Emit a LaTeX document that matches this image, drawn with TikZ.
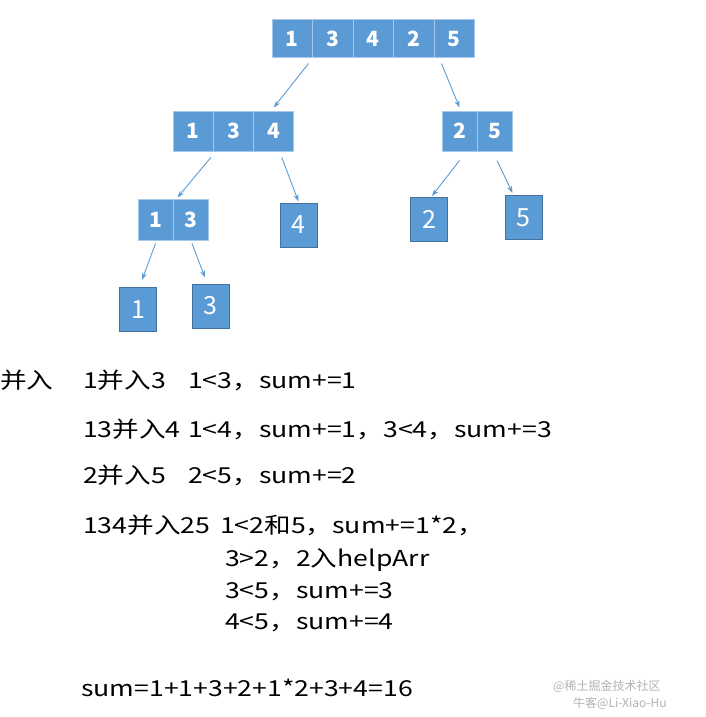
\documentclass[tikz,border=0pt]{standalone}
\usepackage{fontspec}
\setmainfont{Noto Sans CJK SC}
\newfontfamily\widefont[FakeStretch=1.21]{Noto Sans CJK SC}
\usetikzlibrary{arrows.meta}

\definecolor{cellblue}{RGB}{91,155,213}
\definecolor{leafline}{RGB}{65,113,156}
\definecolor{linkblue}{RGB}{91,155,213}

\begin{document}
\begin{tikzpicture}[x=1pt,y=-1pt,
        cell/.style={draw=cellblue!55!white, fill=cellblue, line width=1pt, text=white,
            inner sep=0pt, font=\fontsize{21}{21}\selectfont\bfseries},
        leaf/.style={draw=leafline, fill=cellblue, line width=1pt, text=white,
            inner sep=0pt, minimum width=37pt, minimum height=44pt,
            font=\fontsize{25}{25}\selectfont},
        link/.style={draw=linkblue, line width=0.9pt, -{Stealth[length=7pt,width=5pt]}},
        txt/.style={anchor=base west, inner sep=0pt, font=\widefont\fontsize{22}{26}\selectfont},
        wmark/.style={anchor=base west, inner sep=0pt, text=black!30, font=\fontsize{12}{12}\selectfont}]

    \useasboundingbox (0,0) rectangle (705,717);

    % split tree
    \foreach \v [count=\i] in {1,3,4,2,5}
        \node[cell, minimum width=40.5pt, minimum height=38pt] (t\i) at ({251.75+40.5*\i},39) {\v};
    \foreach \v [count=\i] in {1,3,4}
        \node[cell, minimum width=40.3pt, minimum height=40pt] (m\i) at ({152.85+40.3*\i},131) {\v};
    \foreach \v [count=\i] in {2,5}
        \node[cell, minimum width=35pt, minimum height=40pt] (r\i) at ({424.5+35*\i},131) {\v};
    \foreach \v [count=\i] in {1,3}
        \node[cell, minimum width=35pt, minimum height=41pt] (s\i) at ({120.5+35*\i},219.5) {\v};

    \node[leaf] (f4) at (298.5,225) {4};
    \node[leaf] (f2) at (429,219.5) {2};
    \node[leaf] (f5) at (523.5,217.5) {5};
    \node[leaf] (f1) at (138,309.5) {1};
    \node[leaf] (f3) at (210.5,306) {3};

    \draw[link] ([xshift=-4.5pt,yshift=-5pt]t1.south east) -- ([yshift=3pt]m3.north);
    \draw[link] ([xshift=8pt,yshift=-5pt]t5.south west) -- ([yshift=3pt]r1.north);
    \draw[link] ([xshift=-3pt,yshift=-6pt]m1.south east) -- ([xshift=4pt,yshift=1pt]s1.north east);
    \draw[link] ([xshift=8pt,yshift=-6pt]m3.south) -- ([yshift=1pt]f4.north);
    \draw[link] ([yshift=-9pt]r1.south) -- ([xshift=3pt,yshift=1pt]f2.north);
    \draw[link] ([xshift=2.5pt,yshift=-9pt]r2.south) -- ([xshift=8pt,yshift=2pt]f5.north west);
    \draw[link] ([yshift=-3pt]s1.south) -- ([xshift=4pt,yshift=7pt]f1.north);
    \draw[link] ([xshift=1.5pt,yshift=-3pt]s2.south) -- ([xshift=-5.5pt,yshift=6pt]f3.north);

    % merge steps
    \node[txt] (head) at (0,388) {并入};
    \node[txt] (a1) at (83,388) {1并入3};
    \node[txt] (a2) at (188,388) {1<3，sum+=1};
    \node[txt] (b1) at (83,437) {13并入4};
    \node[txt] (b2) at (188,437) {1<4，sum+=1，3<4，sum+=3};
    \node[txt] (c1) at (83,483) {2并入5};
    \node[txt] (c2) at (188,483) {2<5，sum+=2};
    \node[txt] (d1) at (83,533) {134并入25};
    \node[txt] (d2) at (220,533) {1<2和5，sum+=1*2，};
    \node[txt] (d3) at (225,566) {3>2，2入helpArr};
    \node[txt] (d4) at (225,598) {3<5，sum+=3};
    \node[txt] (d5) at (225,629) {4<5，sum+=4};
    \node[txt] (total) at (81,696) {sum=1+1+3+2+1*2+3+4=16};

    \node[wmark] (wm1) at (553,690) {@稀土掘金技术社区};
    \node[wmark] (wm2) at (573,707) {牛客@Li-Xiao-Hu};
\end{tikzpicture}
\end{document}
